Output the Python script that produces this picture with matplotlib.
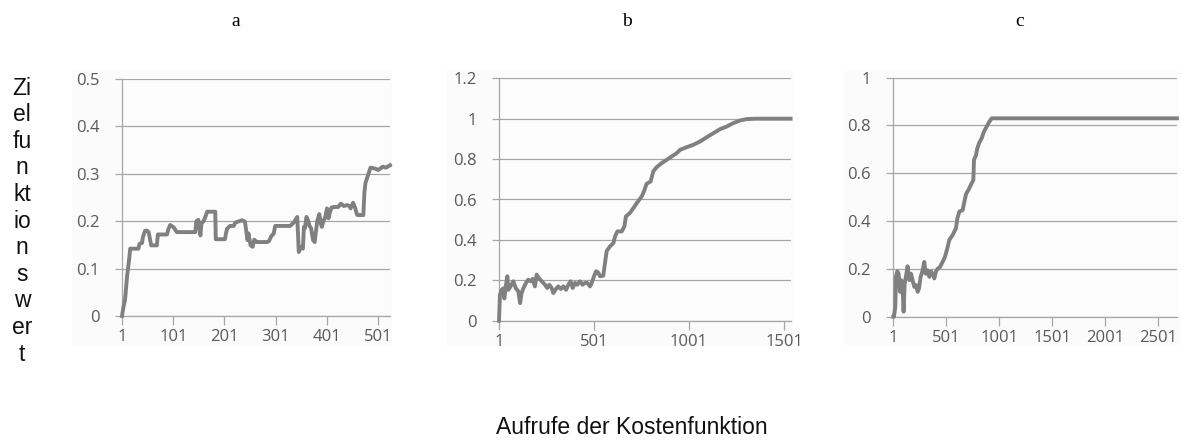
# plot.py
# Drei Verlaeufe des Zielfunktionswerts ueber die Aufrufe der Kostenfunktion
import matplotlib
matplotlib.use("Agg")
import matplotlib.pyplot as plt
from matplotlib.patches import Rectangle

# --- DATEN ---
a_x = [1, 4, 7, 11, 15, 17, 33, 35, 40, 42, 46, 50, 53, 56, 58, 69, 71, 89, 91, 95,
       102, 106, 108, 144, 146, 150, 152, 154, 156, 160, 164, 167, 183, 184, 202, 204,
       206, 212, 219, 222, 235, 241, 244, 246, 248, 250, 252, 256, 259, 262, 264, 284,
       288, 292, 297, 300, 329, 336, 343, 345, 346, 350, 354, 356, 358, 361, 364, 367,
       370, 374, 377, 379, 382, 386, 389, 391, 394, 398, 401, 404, 407, 410, 416, 423,
       428, 434, 440, 445, 447, 452, 456, 458, 460, 472, 474, 476, 478, 482, 486, 495,
       501, 510, 516, 524]
a_y = [0.0, 0.02, 0.035, 0.085, 0.12, 0.142, 0.142, 0.152, 0.154, 0.167, 0.18, 0.18,
       0.177, 0.16, 0.149, 0.149, 0.172, 0.172, 0.182, 0.192, 0.187, 0.18, 0.177, 0.177,
       0.2, 0.203, 0.185, 0.17, 0.195, 0.2, 0.21, 0.22, 0.22, 0.162, 0.162, 0.175, 0.184,
       0.19, 0.19, 0.197, 0.202, 0.199, 0.175, 0.16, 0.174, 0.16, 0.149, 0.146, 0.161,
       0.158, 0.156, 0.156, 0.158, 0.168, 0.174, 0.19, 0.19, 0.197, 0.209, 0.16, 0.135,
       0.146, 0.142, 0.188, 0.185, 0.209, 0.202, 0.19, 0.185, 0.16, 0.156, 0.174, 0.2,
       0.215, 0.195, 0.188, 0.2, 0.21, 0.227, 0.206, 0.22, 0.229, 0.23, 0.23, 0.237,
       0.232, 0.234, 0.232, 0.227, 0.239, 0.228, 0.22, 0.213, 0.213, 0.26, 0.28, 0.287,
       0.3, 0.313, 0.311, 0.308, 0.315, 0.313, 0.318]

b_x = [1, 6, 15, 24, 29, 35, 45, 50, 62, 76, 90, 103, 112, 120, 129, 143, 155, 168,
       178, 190, 199, 210, 226, 243, 255, 266, 278, 287, 301, 313, 326, 340, 354, 366,
       378, 389, 401, 413, 427, 441, 454, 466, 480, 489, 501, 512, 524, 533, 550, 559,
       568, 585, 603, 612, 624, 647, 661, 669, 690, 708, 726, 752, 764, 778, 799, 813,
       831, 857, 883, 910, 936, 954, 989, 1024, 1059, 1094, 1129, 1164, 1199, 1234,
       1269, 1304, 1348, 1536]
b_y = [0.0, 0.128, 0.153, 0.16, 0.11, 0.16, 0.22, 0.153, 0.17, 0.195, 0.16, 0.145,
       0.087, 0.137, 0.16, 0.187, 0.203, 0.195, 0.207, 0.17, 0.228, 0.212, 0.195, 0.178,
       0.162, 0.178, 0.162, 0.137, 0.157, 0.17, 0.157, 0.17, 0.153, 0.178, 0.195, 0.162,
       0.187, 0.178, 0.195, 0.178, 0.187, 0.187, 0.17, 0.187, 0.22, 0.245, 0.237, 0.22,
       0.223, 0.287, 0.345, 0.368, 0.384, 0.417, 0.442, 0.442, 0.467, 0.516, 0.533,
       0.557, 0.582, 0.615, 0.64, 0.678, 0.689, 0.739, 0.76, 0.78, 0.796, 0.813, 0.829,
       0.846, 0.859, 0.871, 0.887, 0.908, 0.928, 0.948, 0.961, 0.978, 0.991, 0.998,
       1.0, 1.0]

c_x = [1, 7, 20, 26, 39, 51, 64, 76, 89, 98, 108, 120, 136, 152, 168, 183, 199, 215,
       231, 243, 259, 278, 293, 306, 322, 341, 356, 372, 388, 404, 419, 441, 466, 488,
       510, 529, 561, 592, 605, 624, 655, 668, 687, 709, 740, 756, 762, 781, 793, 812,
       834, 856, 881, 907, 929, 2676]
c_y = [0.0, 0.0, 0.042, 0.167, 0.19, 0.18, 0.104, 0.153, 0.118, 0.021, 0.139, 0.167,
       0.211, 0.153, 0.18, 0.153, 0.125, 0.132, 0.104, 0.118, 0.167, 0.194, 0.229, 0.18,
       0.194, 0.167, 0.19, 0.18, 0.16, 0.19, 0.2, 0.208, 0.229, 0.25, 0.285, 0.321,
       0.342, 0.37, 0.411, 0.44, 0.446, 0.474, 0.513, 0.53, 0.558, 0.572, 0.656, 0.676,
       0.704, 0.728, 0.746, 0.774, 0.795, 0.816, 0.83, 0.83]

a_xticks = [1, 101, 201, 301, 401, 501]
b_xticks = [1, 501, 1001, 1501]
c_xticks = [1, 501, 1001, 1501, 2001, 2501]
a_yticks = [0, 0.1, 0.2, 0.3, 0.4, 0.5]
b_yticks = [0, 0.2, 0.4, 0.6, 0.8, 1.0, 1.2]
c_yticks = [0, 0.2, 0.4, 0.6, 0.8, 1.0]
a_ylabels = ["0", "0.1", "0.2", "0.3", "0.4", "0.5"]
b_ylabels = ["0", "0.2", "0.4", "0.6", "0.8", "1", "1.2"]
c_ylabels = ["0", "0.2", "0.4", "0.6", "0.8", "1"]
titles = ["a", "b", "c"]

W, H = 1181, 440
LINE = "#808080"
GRID = "#a6a6a6"
TXT = "#595959"

fig = plt.figure(figsize=(W / 100, H / 100), dpi=100)
fig.patch.set_facecolor("white")


def px_box(x0, y0, x1, y1):
    # Pixelkoordinaten (oben links = 0,0) -> Figure-Anteile
    return [x0 / W, 1 - y1 / H, (x1 - x0) / W, (y1 - y0) / H]


panels = [
    # Diagrammbereich, Plotbereich, Daten, Ticks, xmax, ymax, Titel-x
    ((72, 70, 392, 346), (122, 79, 390, 316), a_x, a_y, a_xticks, a_yticks, a_ylabels, 524, 0.5, 236),
    ((446, 70, 793, 346), (499, 78.3, 791, 320.7), b_x, b_y, b_xticks, b_yticks, b_ylabels, 1538, 1.2, 627),
    ((845, 70, 1179, 346), (893.3, 77.7, 1177, 316.7), c_x, c_y, c_xticks, c_yticks, c_ylabels, 2677, 1.0, 1020),
]

for i, (chart, plot, xs, ys, xt, yt, yl, xmax, ymax, tx) in enumerate(panels):
    bx = px_box(*chart)
    fig.patches.append(Rectangle((bx[0], bx[1]), bx[2], bx[3], transform=fig.transFigure,
                                 facecolor="#fbfbfb", edgecolor="none", zorder=-5))
    ax = fig.add_axes(px_box(*plot), zorder=2)
    ax.set_facecolor("#fcfcfc")
    ax.plot(xs, ys, color=LINE, lw=2.8, solid_joinstyle="round", zorder=3, clip_on=False)
    ax.set_xlim(1, xmax)
    ax.set_ylim(0, ymax)
    ax.set_xticks(xt)
    ax.set_xticklabels([str(v) for v in xt])
    ax.set_yticks(yt)
    ax.set_yticklabels(yl)
    ax.grid(axis="y", color=GRID, lw=0.9)
    ax.set_axisbelow(True)
    for s in ["top", "right"]:
        ax.spines[s].set_visible(False)
    for s in ["left", "bottom"]:
        ax.spines[s].set_color(GRID)
        ax.spines[s].set_linewidth(0.9)
    ax.tick_params(axis="x", direction="out", length=6.5, width=0.9, color=GRID, pad=3,
                   labelsize=12, labelcolor=TXT)
    ax.tick_params(axis="y", direction="out", length=5, width=0.9, color=GRID, pad=11,
                   labelsize=12, labelcolor=TXT)
    for lab in ax.get_xticklabels() + ax.get_yticklabels():
        lab.set_fontfamily("Open Sans")
    fig.text(tx / W, 1 - 22 / H, titles[i], ha="center", va="center",
             fontsize=14, family="Liberation Serif")

fig.text(22 / W, 1 - 221 / H, "Zi\nel\nfu\nn\nkt\nio\nn\ns\nw\ner\nt", ha="center",
         va="center", fontsize=16.5, family="Liberation Sans", linespacing=1.2, color="#111111")
fig.text(632 / W, 1 - 427 / H, "Aufrufe der Kostenfunktion", ha="center", va="center",
         fontsize=16.5, family="Liberation Sans", color="#111111")

fig.savefig("out.png", dpi=100, facecolor="white")
plt.close(fig)
print("out.png")
